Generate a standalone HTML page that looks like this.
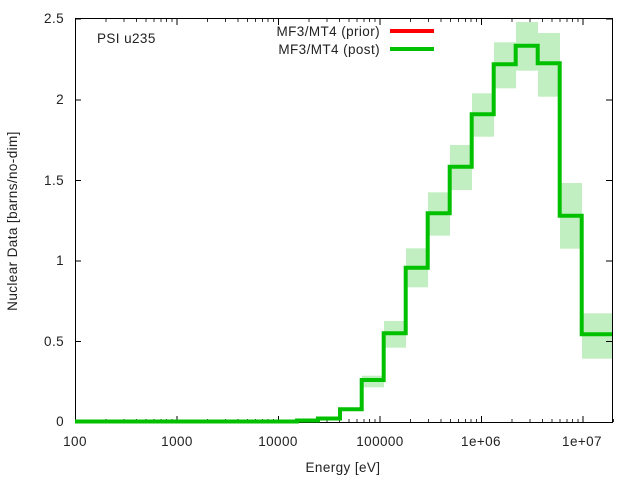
<!DOCTYPE html>
<html><head><style>body{margin:0;background:#fff}svg{display:block}text{font-family:"Liberation Sans",sans-serif;font-size:13.5px;letter-spacing:0.4px;fill:#222}</style></head>
<body>
<svg width="640" height="480" xmlns="http://www.w3.org/2000/svg">
<g fill="#c2efc2">
<rect x="362" y="375.7" width="22" height="11.6"/>
<rect x="384" y="321" width="22" height="26.7"/>
<rect x="406" y="248.3" width="22" height="39"/>
<rect x="428" y="192.3" width="22" height="43.4"/>
<rect x="450" y="145" width="22" height="45"/>
<rect x="472" y="93.3" width="22" height="43.4"/>
<rect x="494" y="42.3" width="22" height="46"/>
<rect x="516" y="22" width="22" height="48.7"/>
<rect x="538" y="33" width="22" height="63.7"/>
<rect x="560" y="183" width="22" height="65.7"/>
<rect x="582" y="313.3" width="30" height="45.4"/>
</g>
<g stroke="#000" stroke-width="1" fill="none">
<rect x="75.5" y="18.5" width="537" height="404"/>
<path d="M75 422.5h6M75 341.5h6M75 261h6M75 180.5h6M75 100h6M75 19h6M612 422.5h-6M612 341.5h-6M612 261h-6M612 180.5h-6M612 100h-6M612 19h-6"/>
<path d="M75.5 422v-6M177 422v-6M278.5 422v-6M380 422v-6M481.5 422v-6M583 422v-6M75.5 19v6M177 19v6M278.5 19v6M380 19v6M481.5 19v6M583 19v6"/>
<path stroke-width="0.8" d="M106 422v-3M124 422v-3M136.5 422v-3M146 422v-3M154 422v-3M161 422v-3M166.5 422v-3M172 422v-3M207.5 422v-3M225.5 422v-3M238 422v-3M247.5 422v-3M255.5 422v-3M262.5 422v-3M268 422v-3M273.5 422v-3M309 422v-3M327 422v-3M339.5 422v-3M349 422v-3M357 422v-3M364 422v-3M369.5 422v-3M375 422v-3M410.5 422v-3M428.5 422v-3M441 422v-3M450.5 422v-3M458.5 422v-3M465.5 422v-3M471 422v-3M476.5 422v-3M512 422v-3M530 422v-3M542.5 422v-3M552 422v-3M560 422v-3M567 422v-3M572.5 422v-3M578 422v-3M613.5 422v-3
M106 19v3M124 19v3M136.5 19v3M146 19v3M154 19v3M161 19v3M166.5 19v3M172 19v3M207.5 19v3M225.5 19v3M238 19v3M247.5 19v3M255.5 19v3M262.5 19v3M268 19v3M273.5 19v3M309 19v3M327 19v3M339.5 19v3M349 19v3M357 19v3M364 19v3M369.5 19v3M375 19v3M410.5 19v3M428.5 19v3M441 19v3M450.5 19v3M458.5 19v3M465.5 19v3M471 19v3M476.5 19v3M512 19v3M530 19v3M542.5 19v3M552 19v3M560 19v3M567 19v3M572.5 19v3M578 19v3"/>
</g>
<path fill="none" stroke="#00c000" stroke-width="4" d="M75 421.5H297V420.5H318V418.5H340V409.3H361.7V380H383.7V333.3H405.7V267.7H427.7V213.3H449.7V166.7H471.7V114.3H493.7V64.3H515.7V45.7H537.7V63.3H559.7V215.7H581.7V334.3H612"/>
<g text-anchor="end">
<text x="64" y="426">0</text><text x="64" y="346">0.5</text><text x="64" y="265">1</text><text x="64" y="185">1.5</text><text x="64" y="104">2</text><text x="64" y="23">2.5</text>
<text x="380" y="36">MF3/MT4 (prior)</text><text x="380" y="54">MF3/MT4 (post)</text>
</g>
<path stroke="#ff0000" stroke-width="4" d="M390 31h44"/>
<path stroke="#00c000" stroke-width="4" d="M390 49h44"/>
<g text-anchor="middle">
<text x="75" y="446">100</text><text x="177" y="446">1000</text><text x="278" y="446">10000</text><text x="380" y="446">100000</text><text x="481" y="446">1e+06</text><text x="582" y="446">1e+07</text>
<text x="343" y="472">Energy [eV]</text>
<text transform="translate(17,221) rotate(-90)">Nuclear Data [barns/no-dim]</text>
</g>
<text x="97" y="43">PSI u235</text>
</svg>
</body></html>
